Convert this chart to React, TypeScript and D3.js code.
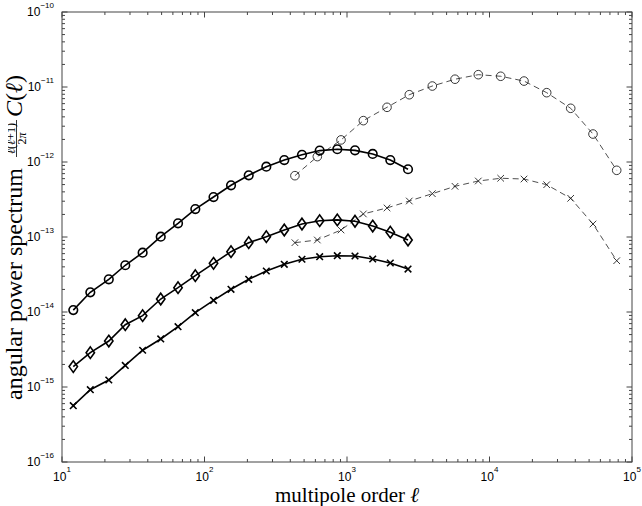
import React from "react";
import * as d3 from "d3";

// multipole orders, solid (low-ℓ) runs
const ellSolid = [12, 15.8, 21.3, 27.8, 36.8, 49.3, 65.2, 86.2, 115.7, 153.5, 204.3, 271.5, 363, 483, 643, 855, 1138, 1515, 2013, 2680];
const circlesSolid = [1.06e-14, 1.83e-14, 2.73e-14, 4.2e-14, 6.18e-14, 1.01e-13, 1.52e-13, 2.36e-13, 3.41e-13, 4.89e-13, 6.65e-13, 8.65e-13, 1.06e-12, 1.25e-12, 1.42e-12, 1.48e-12, 1.43e-12, 1.28e-12, 1.06e-12, 8.0e-13];
const diamondsSolid = [1.87e-15, 2.87e-15, 4.1e-15, 6.77e-15, 8.93e-15, 1.49e-14, 2.11e-14, 3.05e-14, 4.46e-14, 6.37e-14, 8.4e-14, 1.01e-13, 1.24e-13, 1.49e-13, 1.65e-13, 1.69e-13, 1.62e-13, 1.4e-13, 1.16e-13, 9.12e-14];
const crossesSolid = [5.64e-16, 9.2e-16, 1.24e-15, 1.94e-15, 3.09e-15, 4.37e-15, 6.37e-15, 9.79e-15, 1.43e-14, 2.01e-14, 2.73e-14, 3.52e-14, 4.33e-14, 5.05e-14, 5.46e-14, 5.63e-14, 5.58e-14, 5.09e-14, 4.5e-14, 3.74e-14];

// multipole orders, dashed (high-ℓ) runs
const ellDashed = [431, 619, 908, 1302, 1909, 2736, 3969, 5727, 8345, 11984, 17464, 25200, 37140, 53240, 78100];
const circlesDashed = [6.57e-13, 1.18e-12, 1.97e-12, 3.56e-12, 5.36e-12, 7.89e-12, 1.03e-11, 1.27e-11, 1.46e-11, 1.39e-11, 1.2e-11, 8.4e-12, 5.2e-12, 2.36e-12, 7.75e-13];
const crossesDashed = [8.4e-14, 9.12e-14, 1.24e-13, 2.03e-13, 2.44e-13, 3.02e-13, 3.78e-13, 4.74e-13, 5.58e-13, 6.07e-13, 5.93e-13, 4.98e-13, 3.28e-13, 1.49e-13, 4.83e-14];

const xDecades = [1, 2, 3, 4, 5];
const yDecades = [-16, -15, -14, -13, -12, -11, -10];
const minorMult = [2, 3, 4, 5, 6, 7, 8, 9];

const W = 642, H = 506;
const L = 62, R = 632, T = 12, B = 462;

const x = d3.scaleLog().domain([10, 1e5]).range([L, R]);
const y = d3.scaleLog().domain([1e-16, 1e-10]).range([B, T]);

const sansF = "'Liberation Sans', Arial, Helvetica, sans-serif";
const serifF = "'Liberation Serif', 'Times New Roman', Times, serif";

type Marker = "circle" | "diamond" | "cross";

function markerPath(kind: Marker, cx: number, cy: number): string {
  if (kind === "circle") {
    const r = 4.3;
    return `M${cx - r},${cy}a${r},${r} 0 1,0 ${2 * r},0a${r},${r} 0 1,0 ${-2 * r},0`;
  }
  if (kind === "diamond") {
    const a = 4.2, b = 5.8;
    return `M${cx},${cy - b}L${cx + a},${cy}L${cx},${cy + b}L${cx - a},${cy}Z`;
  }
  const s = 3.3;
  return `M${cx - s},${cy - s}L${cx + s},${cy + s}M${cx - s},${cy + s}L${cx + s},${cy - s}`;
}

function Series({ xs, ys, kind, dashed }: { xs: number[]; ys: number[]; kind: Marker; dashed: boolean }) {
  const pts: [number, number][] = xs.map((v, i) => [x(v), y(ys[i])]);
  const line = d3.line()(pts) || "";
  const sw = dashed ? 0.8 : 1.6;
  const col = dashed ? "#222" : "#000";
  return (
    <g>
      <path d={line} fill="none" stroke={col} strokeWidth={sw} strokeDasharray={dashed ? "6,4" : undefined} />
      {pts.map(([px, py], i) => (
        <path key={i} d={markerPath(kind, px, py)} fill="none" stroke={col} strokeWidth={dashed ? 0.9 : 1.6} />
      ))}
    </g>
  );
}

export default function App() {
  const majorLen = 5.5, minorLen = 3;
  const ticks: JSX.Element[] = [];
  xDecades.forEach((d, i) => {
    const v = Math.pow(10, d);
    const px = x(v);
    ticks.push(<line key={`xb${d}`} x1={px} x2={px} y1={B} y2={B - majorLen} />);
    ticks.push(<line key={`xt${d}`} x1={px} x2={px} y1={T} y2={T + majorLen} />);
    if (i < xDecades.length - 1) {
      minorMult.forEach((m) => {
        const mx = x(m * v);
        ticks.push(<line key={`xbm${d}-${m}`} x1={mx} x2={mx} y1={B} y2={B - minorLen} />);
        ticks.push(<line key={`xtm${d}-${m}`} x1={mx} x2={mx} y1={T} y2={T + minorLen} />);
      });
    }
  });
  yDecades.forEach((d, i) => {
    const v = Math.pow(10, d);
    const py = y(v);
    ticks.push(<line key={`yl${d}`} x1={L} x2={L + majorLen} y1={py} y2={py} />);
    ticks.push(<line key={`yr${d}`} x1={R} x2={R - majorLen} y1={py} y2={py} />);
    if (i < yDecades.length - 1) {
      minorMult.forEach((m) => {
        const my = y(m * v);
        ticks.push(<line key={`ylm${d}-${m}`} x1={L} x2={L + minorLen} y1={my} y2={my} />);
        ticks.push(<line key={`yrm${d}-${m}`} x1={R} x2={R - minorLen} y1={my} y2={my} />);
      });
    }
  });

  return (
    <svg width={W} height={H} style={{ position: "absolute", left: 0, top: 0, background: "#fff" }}>
      <defs>
        <clipPath id="numclip">
          <rect x={8} y={0} width={W} height={H} />
        </clipPath>
      </defs>
      <rect x={0} y={0} width={W} height={H} fill="#fff" />

      <Series xs={ellDashed} ys={circlesDashed} kind="circle" dashed={true} />
      <Series xs={ellDashed} ys={crossesDashed} kind="cross" dashed={true} />
      <Series xs={ellSolid} ys={circlesSolid} kind="circle" dashed={false} />
      <Series xs={ellSolid} ys={diamondsSolid} kind="diamond" dashed={false} />
      <Series xs={ellSolid} ys={crossesSolid} kind="cross" dashed={false} />

      <g stroke="#444" strokeWidth={1}>
        {ticks}
        <rect x={L} y={T} width={R - L} height={B - T} fill="none" />
      </g>

      <g fontFamily={sansF} fill="#000">
        {xDecades.map((d) => (
          <text key={`xl${d}`} x={x(Math.pow(10, d))} y={B + 19} fontSize={12} textAnchor="middle">
            10<tspan dy={-9} fontSize={8}>{d}</tspan>
          </text>
        ))}
        {yDecades.map((d) => (
          <text key={`yl${d}`} x={54} y={y(Math.pow(10, d)) + 4} fontSize={12} textAnchor="end">
            10<tspan dy={-8.5} fontSize={8}>{"\u2212" + Math.abs(d)}</tspan>
          </text>
        ))}
      </g>

      <text x={(L + R) / 2} y={502} fontFamily={serifF} fontSize={21} textAnchor="middle">
        multipole order <tspan fontStyle="italic">ℓ</tspan>
      </text>

      <g fontFamily={serifF} fill="#000">
        <g transform="translate(22,400) rotate(-90)">
          <text x={0} y={0} fontSize={24}>angular power spectrum</text>
          <line x1={243} x2={280} y1={-5.5} y2={-5.5} stroke="#000" strokeWidth={0.8} />
          <text x={261.5} y={4} fontSize={12} textAnchor="middle">
            2<tspan fontStyle="italic">π</tspan>
          </text>
          <text x={283} y={0} fontSize={24}>
            <tspan fontStyle="italic">C</tspan>(<tspan fontStyle="italic">ℓ</tspan>)
          </text>
        </g>
        <g clipPath="url(#numclip)">
          <g transform="translate(22,400) rotate(-90)">
            <text x={261.5} y={-7} fontSize={12} textAnchor="middle">
              <tspan fontStyle="italic">ℓ</tspan>(<tspan fontStyle="italic">ℓ</tspan>+1)
            </text>
          </g>
        </g>
      </g>
    </svg>
  );
}
